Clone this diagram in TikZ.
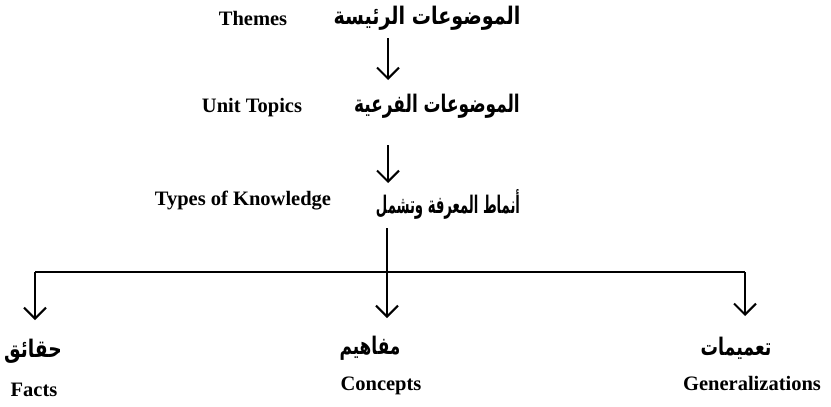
\documentclass[tikz,border=0pt]{standalone}
\usepackage{fontspec}
\setmainfont{Liberation Serif}
\newfontfamily\arabicfont[Script=Arabic]{DejaVu Sans}
\TeXXeTstate=1
\usetikzlibrary{arrows.meta}
\begin{document}
\begin{tikzpicture}[x=1pt,y=-1pt,
  en/.style={font=\fontsize{20.5}{24}\selectfont\bfseries, inner sep=0pt},
  ar/.style={font=\arabicfont\fontsize{22}{26}\selectfont\bfseries, inner sep=0pt},
  arr/.style={line width=2.1pt, -{Straight Barb[length=11pt,width=22pt,line width=2.1pt]}},
  ln/.style={line width=2.1pt}]
\useasboundingbox[fill=white] (0,0) rectangle (831,407);
% labels
\node[en] (en1) at (253,18) {Themes};
\node[ar] (ar1) at (427,18) {\scalebox{0.87}[1.1]{\beginR الموضوعات الرئيسة\endR}};
\node[en] (en2) at (252,108) {Unit Topics};
\node[ar] (ar2) at (437,106) {\scalebox{0.77}[1.1]{\beginR الموضوعات الفرعية\endR}};
\node[en] (en3) at (243,201) {Types of Knowledge};
\node[ar] (ar3) at (448,204) {\scalebox{0.6}[1.1]{\beginR أنماط المعرفة وتشمل\endR}};
\node[ar] (far) at (33,351) {\scalebox{0.85}[1.1]{\beginR حقائق\endR}};
\node[en] (fen) at (34,390) {Facts};
\node[ar] (car) at (370,348) {\scalebox{0.77}[1.1]{\beginR مفاهيم\endR}};
\node[en] (cen) at (381,386) {Concepts};
\node[ar] (gar) at (736,348) {\scalebox{0.79}[1.1]{\beginR تعميمات\endR}};
\node[en] (gen) at (752,383) {Generalizations};
% connector points
\coordinate (a1s) at (388,38);
\coordinate (a1e) at (388,80);
\coordinate (a2s) at (388,145);
\coordinate (a2e) at (388,183);
\coordinate (vs) at (387,228);
\coordinate (j) at (387,272);
\coordinate (l) at (35,272);
\coordinate (r) at (745,272);
\coordinate (ft) at (35,320);
\coordinate (ct) at (387,318);
\coordinate (gt) at (745,316);
% connectors
\draw[arr] (a1s) -- (a1e);
\draw[arr] (a2s) -- (a2e);
\draw[ln] (l) -- (r);
\draw[arr] (vs) -- (ct);
\draw[arr] (l) -- (ft);
\draw[arr] (r) -- (gt);
\end{tikzpicture}
\end{document}
